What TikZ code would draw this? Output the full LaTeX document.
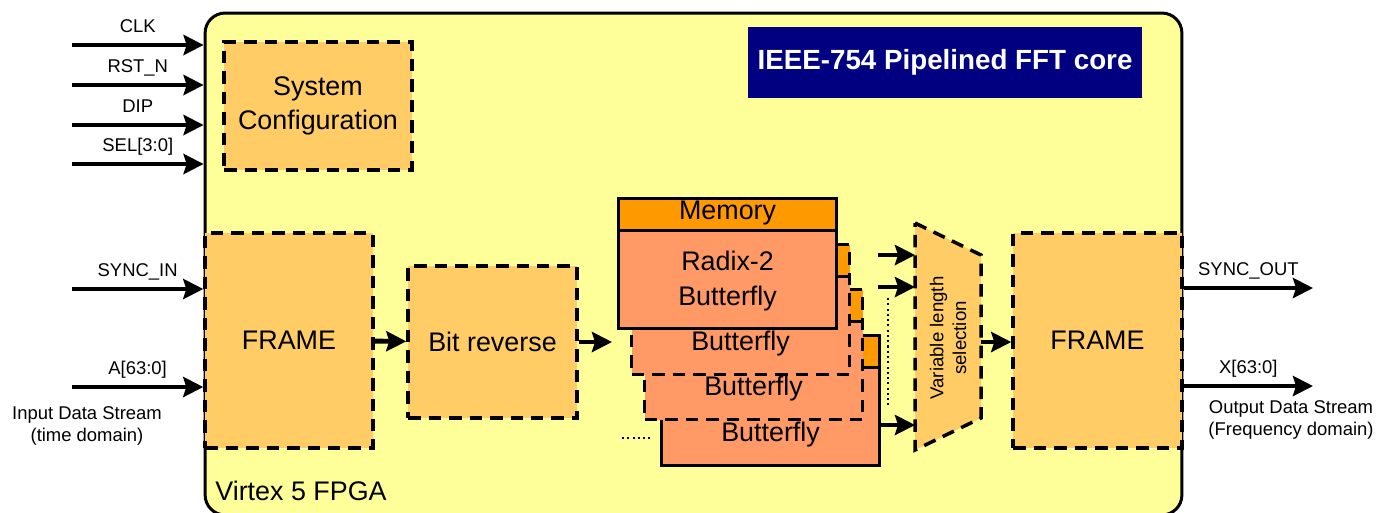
\documentclass[tikz,border=0pt]{standalone}
\usepackage{fontspec}
\setmainfont{Liberation Sans}
\usepackage{tikz}
\usetikzlibrary{arrows.meta,positioning,calc}
\usepackage{xcolor}
\definecolor{fpgabg}{HTML}{FFFF99}
\definecolor{blockbg}{HTML}{FFCC66}
\definecolor{membg}{HTML}{FF9900}
\definecolor{bflybg}{HTML}{FF9966}
\definecolor{titlebg}{HTML}{000080}
\tikzset{
  big/.style={font=\fontsize{15.3}{19.5}\selectfont},
  lbl/.style={font=\fontsize{10.5}{12.5}\selectfont, inner sep=1pt, text height=7.5pt, text depth=2pt},
  note/.style={font=\fontsize{10.5}{12.5}\selectfont, align=center, inner sep=0pt},
  blk/.style={draw, dash pattern=on 0.25cm off 0.16cm, line width=2pt, fill=blockbg, align=center, big, inner sep=0pt},
  card/.style={draw, line width=1.8pt, fill=bflybg, minimum width=4.36cm, minimum height=2.6cm, anchor=north west, inner sep=0pt,
    path picture={
      \fill[membg] (path picture bounding box.north west) rectangle ([yshift=-0.64cm]path picture bounding box.north east);
      \draw[solid, line width=1.8pt] ([yshift=-0.64cm]path picture bounding box.north west) -- ([yshift=-0.64cm]path picture bounding box.north east);
    }},
  dcard/.style={card, dash pattern=on 0.25cm off 0.16cm},
  flow/.style={-{Stealth[length=0.4cm, width=0.4cm, inset=0.06cm]}, line width=2.8pt},
  dots/.style={line width=1.1pt, dash pattern=on 1.2pt off 1.8pt},
}

\begin{document}
\begin{tikzpicture}[x=0.02cm, y=-0.02cm]
    \useasboundingbox (0,0) rectangle (1378,512);
    % FPGA board
    \node[draw, line width=1.7pt, rounded corners=0.4cm, fill=fpgabg, minimum width=19.54cm, minimum height=10.04cm] (fpga) at (693.5,264) {};
    \node[big, anchor=west, inner sep=0pt] (virtex) at (215,491) {Virtex 5 FPGA};
    \node[fill=titlebg, text=white, font=\bfseries\fontsize{15.8}{18}\selectfont, minimum width=7.88cm, minimum height=1.42cm] (title) at (945,62.5) {IEEE-754 Pipelined FFT core};
    % blocks
    \node[blk, minimum width=3.76cm, minimum height=2.56cm] (syscfg) at (318,106) {System\\Configuration};
    \node[blk, minimum width=3.36cm, minimum height=4.3cm] (frameL) at (289,340.5) {FRAME};
    \node[blk, minimum width=3.38cm, minimum height=3.04cm] (bitrev) at (492.5,342) {Bit reverse};
    \node[blk, minimum width=3.38cm, minimum height=4.3cm] (frameR) at (1097.5,340.5) {FRAME};
    % butterfly stack, back to front
    \node[card] (card4) at (660,334) {};
    \node[big, inner sep=0pt] (bf4) at ([yshift=0.66cm]card4.south) {Butterfly};
    \node[dcard] (card3) at (643,288) {};
    \node[big, inner sep=0pt] (bf3) at ([yshift=0.66cm]card3.south) {Butterfly};
    \node[dcard] (card2) at (630,243) {};
    \node[big, inner sep=0pt] (bf2) at ([yshift=0.66cm]card2.south) {Butterfly};
    \node[card] (card1) at (617,197) {};
    \node[big, inner sep=0pt] (mem) at ([yshift=-0.32cm]card1.north) {Memory};
    \node[big, inner sep=0pt, align=center] (radix) at ([yshift=0.98cm]card1.south) {Radix-2\\Butterfly};
    % length selection
    \coordinate (muxnw) at (915,223);
    \coordinate (muxne) at (981,255);
    \coordinate (muxse) at (981,418);
    \coordinate (muxsw) at (915,450);
    \path[blk] (muxnw) -- (muxne) -- (muxse) -- (muxsw) -- cycle;
    \node[font=\fontsize{10.6}{13}\selectfont, rotate=90, align=center, inner sep=0pt] (mux) at (948,338) {Variable length\\selection};
    \coordinate (vdots1) at (888,298);
    \coordinate (vdots2) at (888,405);
    \draw[dots] (vdots1) -- (vdots2);
    \coordinate (hdots1) at (622,438);
    \coordinate (hdots2) at (652,438);
    \draw[dots] (hdots1) -- (hdots2);
    % inputs
    \coordinate (clkin) at (72,45);
    \coordinate (rstin) at (72,85);
    \coordinate (dipin) at (72,125);
    \coordinate (selin) at (72,164);
    \coordinate (syncin) at (72,289);
    \coordinate (datain) at (72,387);
    \draw[flow] (clkin) -- (clkin -| fpga.west) node[lbl, midway, above=2.5pt] {CLK};
    \draw[flow] (rstin) -- (rstin -| fpga.west) node[lbl, midway, above=2.5pt] {RST\_N};
    \draw[flow] (dipin) -- (dipin -| fpga.west) node[lbl, midway, above=2.5pt] {DIP};
    \draw[flow] (selin) -- (selin -| fpga.west) node[lbl, midway, above=2.5pt] {SEL[3:0]};
    \draw[flow] (syncin) -- (syncin -| frameL.west) node[lbl, midway, above=2.5pt] {SYNC\_IN};
    \draw[flow] (datain) -- (datain -| frameL.west) node[lbl, midway, above=2.5pt] {A[63:0]};
    \node[note] (instream) at (87,426) {Input Data Stream\\(time domain)};
    % data path
    \coordinate (bfin) at (612,342);
    \draw[flow] (frameL) -- (bitrev);
    \draw[flow] (bitrev) -- (bfin);
    \coordinate (mi1) at (878,255);
    \coordinate (mi2) at (878,287);
    \coordinate (mi3) at (878,425);
    \draw[flow] (mi1) -- (mi1 -| muxnw);
    \draw[flow] (mi2) -- (mi2 -| muxnw);
    \draw[flow] (mi3) -- (mi3 -| muxnw);
    \coordinate (muxout) at (981,342);
    \draw[flow] (muxout) -- (muxout -| frameR.west);
    % outputs
    \coordinate (syncout) at (1313,288);
    \coordinate (dataout) at (1313,386);
    \draw[flow] (syncout -| frameR.east) -- (syncout) node[lbl, midway, above=2.5pt] {SYNC\_OUT};
    \draw[flow] (dataout -| frameR.east) -- (dataout) node[lbl, midway, above=2.5pt] {X[63:0]};
    \node[note] (outstream) at (1291,419.5) {Output Data Stream\\(Frequency domain)};
\end{tikzpicture}
\end{document}
